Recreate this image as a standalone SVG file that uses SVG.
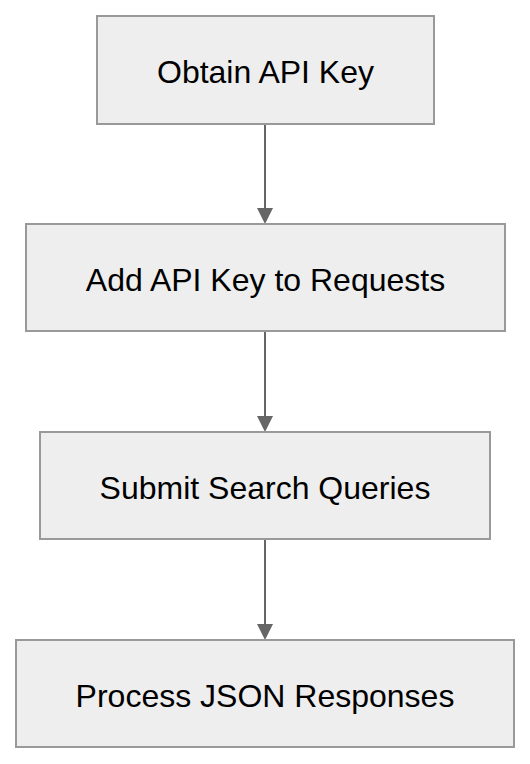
<svg xmlns="http://www.w3.org/2000/svg" width="530" height="764" viewBox="0 0 530 764">
<style>
.box{fill:#eeeeee;stroke:#999999;stroke-width:2}
.lbl{font-family:"Liberation Sans",Arial,sans-serif;font-size:32px;fill:#000000;text-anchor:middle}
.edge{stroke:#666666;stroke-width:2;fill:none}
.head{fill:#666666}
</style>
<rect width="530" height="764" fill="#ffffff"/>
<g id="connectors">
<line class="edge" x1="265" y1="124" x2="265" y2="210"/>
<polygon class="head" points="257,208 273,208 265,224"/>
<line class="edge" x1="265" y1="331" x2="265" y2="418"/>
<polygon class="head" points="257,416 273,416 265,432"/>
<line class="edge" x1="265" y1="539" x2="265" y2="626"/>
<polygon class="head" points="257,624 273,624 265,640"/>
</g>
<g id="node1">
<rect class="box" x="97" y="16" width="337" height="108"/>
<text class="lbl" x="265.5" y="83.3">Obtain API Key</text>
</g>
<g id="node2">
<rect class="box" x="26" y="224" width="479" height="107"/>
<text class="lbl" x="265.5" y="291">Add API Key to Requests</text>
</g>
<g id="node3">
<rect class="box" x="40" y="432" width="450" height="107"/>
<text class="lbl" x="265" y="499">Submit Search Queries</text>
</g>
<g id="node4">
<rect class="box" x="16" y="640" width="498" height="107"/>
<text class="lbl" x="265" y="707">Process JSON Responses</text>
</g>
</svg>
